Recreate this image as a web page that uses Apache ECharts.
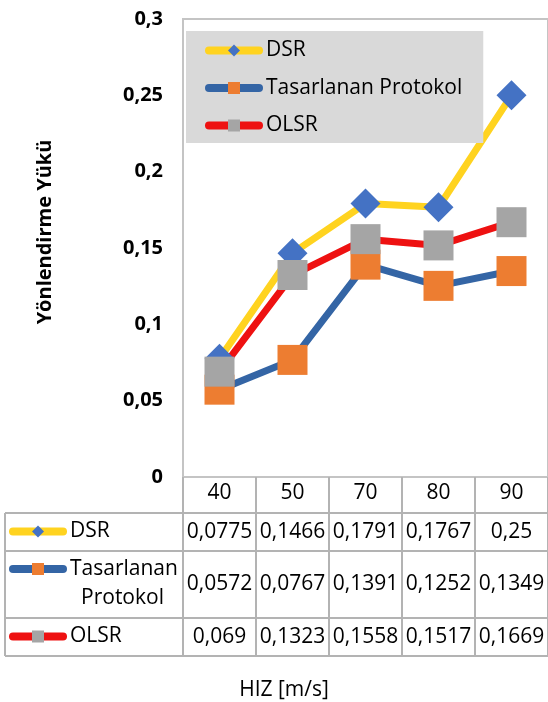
<!DOCTYPE html>
<html>
<head>
<meta charset="utf-8">
<script src="https://cdn.jsdelivr.net/npm/echarts@6/dist/echarts.min.js"></script>
<style>
html,body{margin:0;padding:0;background:#fff;}
#chart{width:548px;height:702px;}
</style>
</head>
<body>
<div id="chart"></div>
<script>
const categories = ['40', '50', '70', '80', '90'];
const seriesNames = ['DSR', 'Tasarlanan Protokol', 'OLSR'];
const dsrValues = [0.0775, 0.1466, 0.1791, 0.1767, 0.25];
const tasarlananValues = [0.0572, 0.0767, 0.1391, 0.1252, 0.1349];
const olsrValues = [0.069, 0.1323, 0.1558, 0.1517, 0.1669];
const yTitle = 'Yönlendirme Yükü';
const xTitle = 'HIZ [m/s]';

const FONT = '"Open Sans", "DejaVu Sans", sans-serif';
const GRID_LEFT = 183, GRID_TOP = 19, GRID_W = 368, GRID_H = 458;
const LINE_GREY = '#b3b3b3';
const TABLE_BOTTOM = 656;
const ROW_LINES = [513, 551, 618, 656];
const ROW_CENTERS = [532, 584.5, 637];
const TABLE_LEFT = 5;

function fmt(v) {
  return String(+Number(v).toFixed(4)).replace('.', ',');
}

const chart = echarts.init(document.getElementById('chart'), null, {renderer: 'canvas'});

const legendCommon = {
  orient: 'vertical',
  itemWidth: 50,
  itemHeight: 15,
  selectedMode: false,
  textStyle: {fontSize: 21, color: '#000', fontFamily: FONT, padding: [0, 0, 0, 2]},
  lineStyle: {cap: 'round', width: 8},
  itemStyle: {borderWidth: 0}
};

const option = {
  animation: false,
  textStyle: {fontFamily: FONT},
  grid: {
    left: GRID_LEFT, top: GRID_TOP, width: GRID_W, height: GRID_H,
    show: true, borderColor: '#c4c4c4', borderWidth: 2, containLabel: false
  },
  legend: [
    Object.assign({}, legendCommon, {
      left: 186, top: 31,
      padding: [9, 21, 7, 19],
      itemGap: 16.5,
      backgroundColor: '#d9d9d9',
      data: seriesNames
    }),
    Object.assign({}, legendCommon, {
      left: 9, top: 521, padding: 0, data: [seriesNames[0]]
    }),
    Object.assign({}, legendCommon, {
      left: 9, top: 558.5, padding: 0, data: [seriesNames[1]],
      formatter: function () { return 'Tasarlanan'; }
    }),
    Object.assign({}, legendCommon, {
      left: 9, top: 626, padding: 0, data: [seriesNames[2]]
    })
  ],
  xAxis: {
    type: 'category',
    data: categories,
    boundaryGap: true,
    axisLine: {lineStyle: {color: '#c4c4c4', width: 2}},
    axisTick: {show: true, interval: 0, length: TABLE_BOTTOM - (GRID_TOP + GRID_H), lineStyle: {color: LINE_GREY, width: 2}},
    axisLabel: {interval: 0, fontSize: 21, color: '#000', margin: 6, fontFamily: FONT},
    splitLine: {show: false}
  },
  yAxis: {
    type: 'value',
    min: 0, max: 0.3, interval: 0.05,
    axisLine: {show: false},
    axisTick: {show: false},
    splitLine: {show: false},
    axisLabel: {
      fontSize: 20, fontWeight: 'bold', color: '#000', margin: 20, fontFamily: FONT,
      formatter: function (v) { return String(+v.toFixed(2)).replace('.', ','); }
    }
  },
  series: [
    {
      name: seriesNames[0], type: 'line', data: dsrValues,
      symbol: 'diamond', symbolSize: 30,
      lineStyle: {color: '#FFD320', width: 7},
      itemStyle: {color: '#4472C4'},
      emphasis: {disabled: true}
    },
    {
      name: seriesNames[1], type: 'line', data: tasarlananValues,
      symbol: 'rect', symbolSize: 30,
      lineStyle: {color: '#3465A5', width: 7},
      itemStyle: {color: '#ED7D31'},
      emphasis: {disabled: true}
    },
    {
      name: seriesNames[2], type: 'line', data: olsrValues,
      symbol: 'rect', symbolSize: 30,
      lineStyle: {color: '#EE1111', width: 7},
      itemStyle: {color: '#A5A5A5'},
      emphasis: {disabled: true}
    }
  ]
};

chart.setOption(option);

// Build the data table from the same arrays, positioned on the category axis
const allValues = [dsrValues, tasarlananValues, olsrValues];
const graphics = [];
const rightEdge = GRID_LEFT + GRID_W;
ROW_LINES.forEach(function (y) {
  graphics.push({type: 'line', shape: {x1: TABLE_LEFT, y1: y, x2: rightEdge, y2: y},
    style: {stroke: LINE_GREY, lineWidth: 2}, silent: true});
});
graphics.push({type: 'line', shape: {x1: TABLE_LEFT, y1: ROW_LINES[0], x2: TABLE_LEFT, y2: TABLE_BOTTOM},
  style: {stroke: LINE_GREY, lineWidth: 2}, silent: true});

allValues.forEach(function (vals, r) {
  vals.forEach(function (v, i) {
    const px = chart.convertToPixel({xAxisIndex: 0}, i);
    graphics.push({type: 'text', x: px, y: ROW_CENTERS[r], silent: true,
      style: {text: fmt(v), fontSize: 21, fill: '#000', align: 'center', verticalAlign: 'middle', fontFamily: FONT}});
  });
});

graphics.push({type: 'text', x: 122.5, y: 598, silent: true,
  style: {text: 'Protokol', fontSize: 21, fill: '#000', align: 'center', verticalAlign: 'middle', fontFamily: FONT}});

graphics.push({type: 'text', x: 45, y: 232, rotation: Math.PI / 2, silent: true,
  style: {text: yTitle, fontSize: 20, fontWeight: 'bold', fill: '#000', align: 'center', verticalAlign: 'middle', fontFamily: FONT}});

graphics.push({type: 'text', x: 284, y: 690, silent: true,
  style: {text: xTitle, fontSize: 21, fill: '#000', align: 'center', verticalAlign: 'middle', fontFamily: FONT}});

chart.setOption({graphic: graphics});
</script>
</body>
</html>
